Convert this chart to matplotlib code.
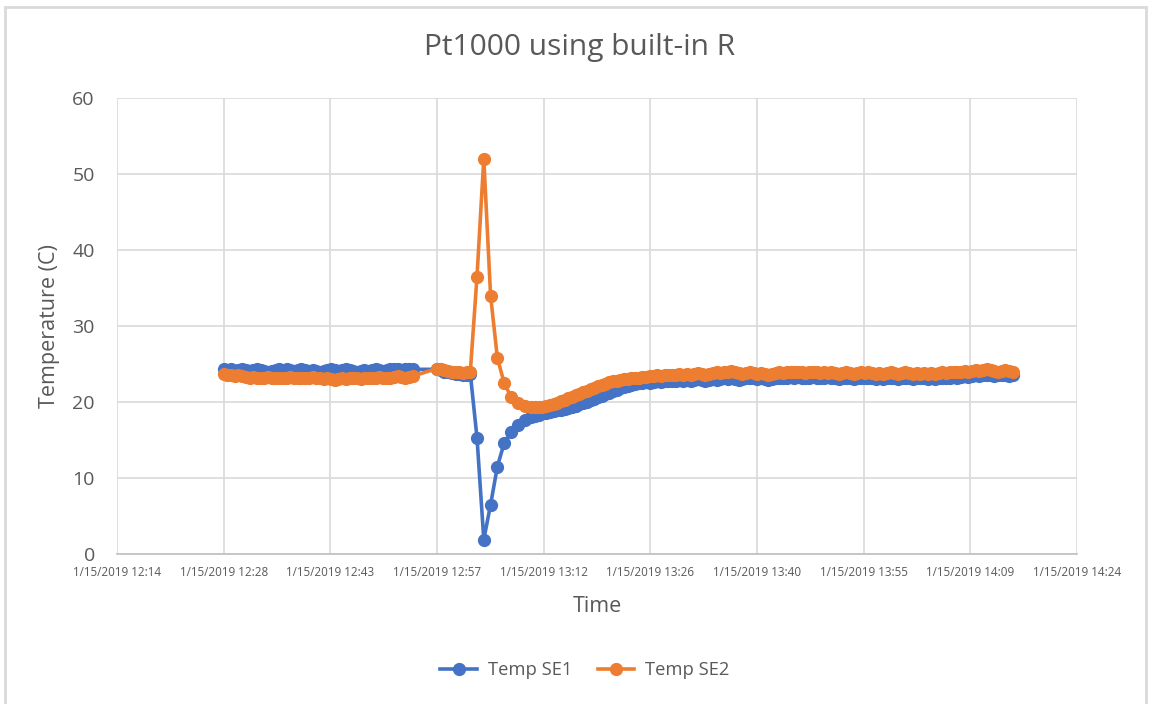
import numpy as np
import pandas as pd
import matplotlib
matplotlib.use("Agg")
import matplotlib.pyplot as plt
import matplotlib.dates as mdates
from matplotlib.patches import Rectangle

plt.rcParams['font.family'] = ['Open Sans', 'DejaVu Sans']

# sample times (logger changed rate a few times)
t_a = pd.date_range('2019-01-15 12:28:48', periods=52, freq='30s')
t_b = pd.date_range('2019-01-15 12:57:36', periods=10, freq='30s')
t_c = pd.date_range('2019-01-15 13:03:00', periods=9, freq='55s')
t_d = pd.date_range('2019-01-15 13:10:50', periods=130, freq='30s')

se1_a = [24.3, 24.2, 24.3, 24.1, 24.2, 24.3, 24.2, 24.1, 24.2, 24.3,
         24.2, 24.1, 24.0, 24.1, 24.2, 24.3, 24.2, 24.3, 24.2, 24.1,
         24.2, 24.3, 24.2, 24.1, 24.2, 24.1, 24.0, 24.1, 24.2, 24.3,
         24.2, 24.1, 24.2, 24.3, 24.2, 24.1, 24.0, 24.1, 24.2, 24.1,
         24.2, 24.3, 24.2, 24.1, 24.2, 24.3, 24.4, 24.3, 24.2, 24.3,
         24.4, 24.3]
se2_a = [23.7, 23.6, 23.5, 23.4, 23.5, 23.4, 23.3, 23.2, 23.3, 23.2,
         23.1, 23.2, 23.3, 23.2, 23.1, 23.2, 23.1, 23.2, 23.3, 23.2,
         23.1, 23.2, 23.1, 23.2, 23.3, 23.2, 23.1, 23.0, 23.1, 23.0,
         22.9, 23.0, 23.1, 23.0, 23.1, 23.2, 23.1, 23.0, 23.1, 23.2,
         23.1, 23.2, 23.3, 23.2, 23.1, 23.2, 23.3, 23.4, 23.3, 23.2,
         23.3, 23.4]

se1_b = [24.3, 24.2, 24.0, 23.9, 23.8, 23.7, 23.7, 23.6, 23.6, 23.7]
se2_b = [24.4, 24.3, 24.2, 24.1, 24.0, 23.9, 23.9, 23.8, 23.9, 24.0]

se1_c = [15.3, 1.9, 6.5, 11.5, 14.6, 16.0, 17.0, 17.6, 18.0]
se2_c = [36.5, 52.0, 34.0, 25.8, 22.5, 20.7, 19.9, 19.5, 19.3]

se1_d = [18.2, 18.3, 18.5, 18.6, 18.7, 18.8, 18.9, 19.0, 19.1, 19.2,
         19.4, 19.5, 19.7, 19.9, 20.0, 20.2, 20.4, 20.6, 20.8, 21.0,
         21.2, 21.4, 21.6, 21.8, 22.0, 22.1, 22.3, 22.4, 22.5, 22.5,
         22.6, 22.5, 22.6, 22.7, 22.6, 22.7, 22.8, 22.7, 22.8, 22.9,
         22.8, 22.9, 22.8, 22.9, 23.0, 22.9, 22.8, 22.9, 23.0, 22.9,
         23.0, 23.1, 23.0, 23.1, 23.0, 22.9, 23.0, 23.1, 23.2, 23.1,
         23.0, 23.1, 23.0, 22.9, 23.0, 23.1, 23.2, 23.1, 23.2, 23.3,
         23.2, 23.3, 23.2, 23.1, 23.2, 23.3, 23.2, 23.1, 23.2, 23.3,
         23.2, 23.1, 23.0, 23.1, 23.2, 23.1, 23.0, 23.1, 23.2, 23.1,
         23.2, 23.1, 23.0, 23.1, 23.0, 23.1, 23.2, 23.1, 23.0, 23.1,
         23.2, 23.1, 23.0, 23.1, 23.2, 23.1, 23.0, 23.1, 23.0, 23.1,
         23.2, 23.1, 23.2, 23.3, 23.2, 23.3, 23.4, 23.3, 23.4, 23.5,
         23.4, 23.5, 23.6, 23.5, 23.4, 23.5, 23.6, 23.5, 23.4, 23.5]
se2_d = [19.3, 19.3, 19.4, 19.5, 19.6, 19.8, 19.9, 20.1, 20.3, 20.5,
         20.7, 20.9, 21.1, 21.3, 21.5, 21.7, 21.9, 22.1, 22.3, 22.4,
         22.6, 22.7, 22.8, 22.9, 23.0, 23.0, 23.1, 23.2, 23.2, 23.3,
         23.3, 23.4, 23.4, 23.5, 23.4, 23.5, 23.6, 23.5, 23.6, 23.7,
         23.6, 23.7, 23.6, 23.7, 23.8, 23.7, 23.6, 23.7, 23.8, 23.9,
         23.8, 24.0, 23.9, 24.1, 24.0, 23.8, 23.7, 23.8, 23.9, 23.8,
         23.7, 23.8, 23.7, 23.6, 23.7, 23.8, 23.9, 23.8, 23.9, 24.0,
         23.9, 24.0, 23.9, 23.8, 23.9, 24.0, 23.9, 23.8, 23.9, 23.8,
         23.9, 23.8, 23.7, 23.8, 23.9, 23.8, 23.7, 23.8, 23.9, 23.8,
         23.9, 23.8, 23.7, 23.8, 23.7, 23.8, 23.9, 23.8, 23.7, 23.8,
         23.9, 23.8, 23.7, 23.8, 23.7, 23.8, 23.7, 23.8, 23.7, 23.8,
         23.9, 23.8, 23.9, 24.0, 23.9, 24.0, 24.1, 24.0, 24.1, 24.2,
         24.1, 24.2, 24.3, 24.2, 24.1, 24.0, 24.1, 24.2, 24.1, 24.0]

times = t_a.append([t_b, t_c, t_d])
se1 = se1_a + se1_b + se1_c + se1_d
se2 = se2_a + se2_b + se2_c + se2_d

x_ticks = pd.date_range('2019-01-15 12:14:24', periods=10, freq='864s')
x_labels = [f"{d.month}/{d.day}/{d.year} {d:%H:%M}" for d in x_ticks]
y_ticks = [0, 10, 20, 30, 40, 50, 60]

grey = '#595959'
grid = '#D9D9D9'

fig = plt.figure(figsize=(11.51, 7.04), dpi=100)
ax = fig.add_axes([117/1151, 1 - 554/704, 960/1151, 456/704])

ax.plot(times, se1, color='#4472C4', lw=2.6, marker='o', ms=8.5, label='Temp SE1', zorder=3)
ax.plot(times, se2, color='#ED7D31', lw=2.6, marker='o', ms=8.5, label='Temp SE2', zorder=4)

ax.set_xlim(x_ticks[0], x_ticks[-1])
ax.set_ylim(0, 60)
ax.set_xticks(x_ticks)
ax.set_xticklabels(x_labels, fontsize=8.4, color=grey)
ax.set_yticks(y_ticks)
ax.set_yticklabels([str(v) for v in y_ticks], fontsize=14, color=grey)
ax.tick_params(length=0, pad=9)
ax.tick_params(axis='y', pad=16)

ax.grid(True, color=grid, lw=1.2)
ax.set_axisbelow(True)
for s in ['top', 'right', 'left']:
    ax.spines[s].set_visible(False)
ax.spines['bottom'].set_color('#BFBFBF')
ax.spines['bottom'].set_linewidth(1.2)

ax.set_xlabel('Time', fontsize=15.5, color=grey, labelpad=12)
ax.set_ylabel('Temperature (C)', fontsize=15.5, color=grey, labelpad=9)
fig.text(580/1151, 1 - 48/704, 'Pt1000 using built-in R', fontsize=21.5,
         color=grey, ha='center', va='center')

fig.legend(loc='center', bbox_to_anchor=(585/1151, 1 - 670/704), ncol=2,
           frameon=False, fontsize=13.2, handlelength=2.0, handletextpad=0.6,
           columnspacing=1.4, labelcolor=grey)

fig.patches.append(Rectangle((5/1151, -0.01), 1141/1151, 1 - 7/704 + 0.01,
                             transform=fig.transFigure, fill=False,
                             edgecolor=grid, lw=2))

fig.savefig('out.png', dpi=100)
